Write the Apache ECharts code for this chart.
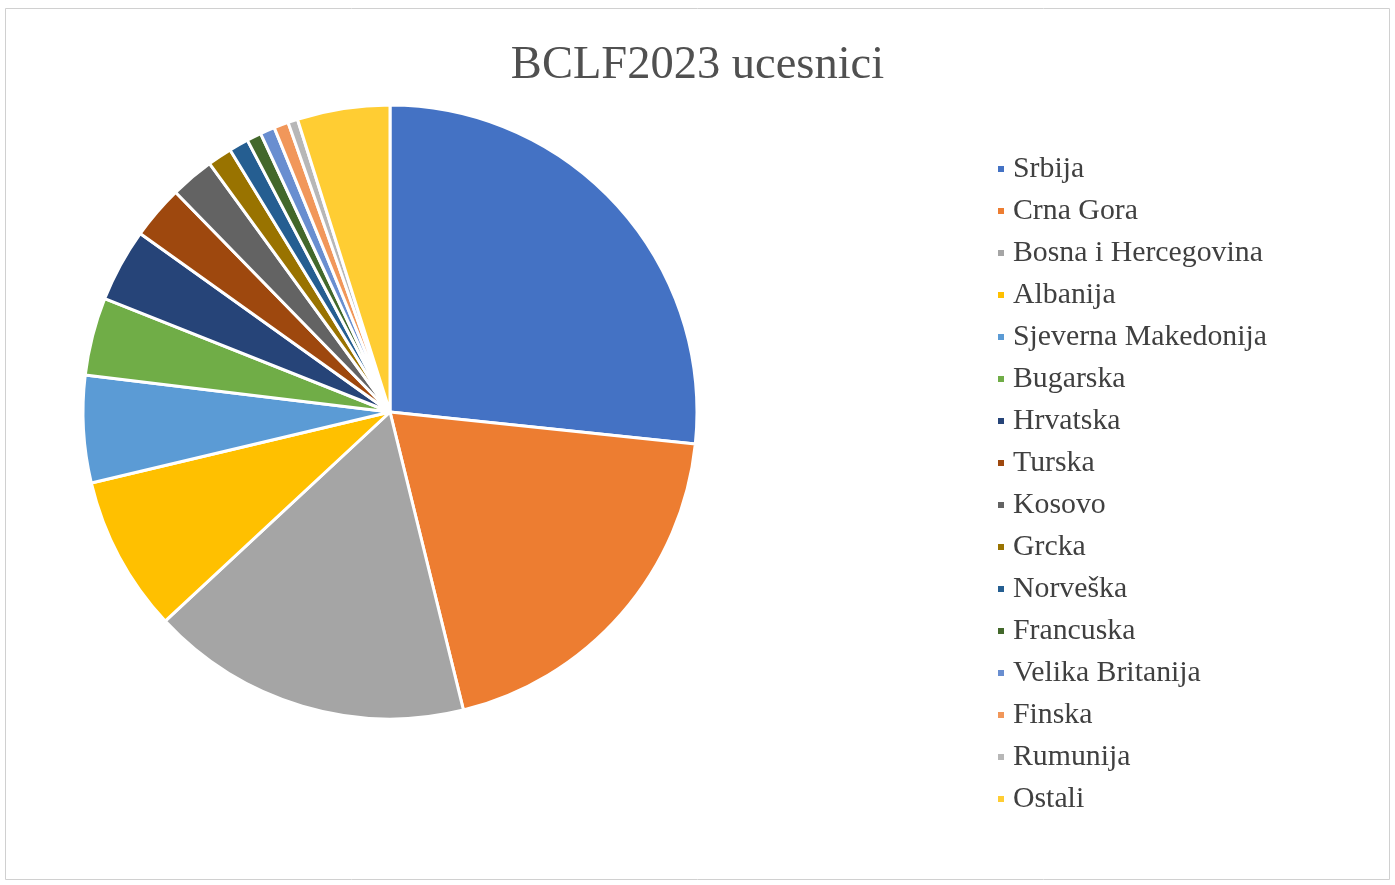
<!DOCTYPE html>
<html>
<head>
<meta charset="utf-8">
<script src="https://cdn.jsdelivr.net/npm/echarts@6/dist/echarts.min.js"></script>
<style>html,body{margin:0;padding:0;background:#fff;}#c{width:1395px;height:885px;}</style>
</head>
<body>
<div id="c"></div>
<script>
const categories = ["Srbija","Crna Gora","Bosna i Hercegovina","Albanija","Sjeverna Makedonija","Bugarska","Hrvatska","Turska","Kosovo","Grcka","Norveška","Francuska","Velika Britanija","Finska","Rumunija","Ostali"];
const values = [104,76,66,32,22,16,15,11,9,5,4,3,3,3,2,19];
const colors = ["#4472C4","#ED7D31","#A5A5A5","#FFC000","#5B9BD5","#70AD47","#264478","#9E480E","#636363","#997300","#255E91","#43682B","#698ED0","#F1975A","#B7B7B7","#FFCD33"];
const titleText = "BCLF2023 ucesnici";

const chart = echarts.init(document.getElementById('c'));
chart.setOption({
  animation: false,
  backgroundColor: '#fff',
  color: colors,
  title: {
    text: titleText, left: 'center', top: 37,
    textStyle: {fontFamily: 'Liberation Serif', fontSize: 46.5, fontWeight: 'normal', color: '#505050'}
  },
  graphic: [{type:'rect', shape:{x:5.5,y:8.5,width:1384,height:871}, style:{fill:'none', stroke:'#d0d0d0', lineWidth:1}}],
  legend: {
    orient: 'vertical', left: 991, top: 149,
    itemWidth: 8, itemHeight: 8, itemGap: 12, icon: 'rect',
    textStyle: {fontFamily: 'Liberation Serif', fontSize: 29.8, color: '#404040', lineHeight: 30, padding:[0,0,0,3]},
    data: categories
  },
  series: [{
    type: 'pie', center: [390, 412], radius: 307, startAngle: 90, clockwise: true,
    label: {show: false}, labelLine: {show: false},
    itemStyle: {borderColor: '#fff', borderWidth: 3},
    emphasis: {disabled: true},
    data: categories.map((n,i)=>({name:n, value: values[i]}))
  }]
});
</script>
</body>
</html>
